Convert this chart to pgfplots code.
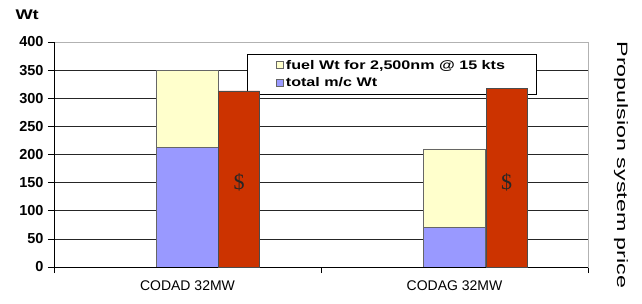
\documentclass[border=0pt]{standalone}
\usepackage{fontspec}
\setmainfont{Liberation Sans}
\newfontfamily\serifdollar{Liberation Serif}
\usepackage{pgfplots}
\pgfplotsset{compat=1.18}
\definecolor{fuelY}{HTML}{FFFFCC}
\definecolor{mcB}{HTML}{9999FF}
\definecolor{priceR}{HTML}{CC3300}
\pgfplotsset{common/.style={
  at={(54pt,36pt)}, anchor=south west,
  width=534pt, height=225pt, scale only axis,
  xmin=-0.5, xmax=1.5, ymin=0, ymax=400}}
\begin{document}
\begin{tikzpicture}
\useasboundingbox (0,0) rectangle (642pt,303pt);
\begin{axis}[
  common,
  ytick={0,50,...,400},
  xtick={-0.5,0.5,1.5}, xticklabels={},
  extra x ticks={0,1},
  extra x tick labels={CODAD 32MW, CODAG 32MW},
  extra x tick style={major tick length=0pt, xticklabel style={yshift=-10pt, font=\fontsize{14}{16}\selectfont}},
  tick align=outside, major tick length=6pt,
  xtick pos=bottom, ytick pos=left,
  ymajorgrids, grid style={black!85, line width=0.6pt},
  axis line style={gray!60},
  tick style={black, line width=0.6pt},
  yticklabel style={font=\bfseries\fontsize{14.5}{16}\selectfont, xshift=-1pt},
  /pgf/number format/assume math mode=true,
  legend style={at={(0.3614,0.948)}, anchor=north west, draw=black, fill=white,
    font=\bfseries\fontsize{12.5}{14}\selectfont, inner xsep=29pt, inner ysep=4pt,
    row sep=3pt, line width=0.6pt},
  legend cell align=left,
]
\addplot[ybar, bar shift=0pt, bar width=0.232, fill=fuelY, draw=gray!80!black,
  legend image code/.code={\draw[fill=fuelY, draw=gray!80!black] (0pt,-3.5pt) rectangle (7pt,3.5pt);}]
  coordinates {(0,350) (1,210)};
\addlegendentry{\scalebox{1.29}[1]{fuel Wt for 2,500nm @ 15 kts}}
\addplot[ybar, bar shift=0pt, bar width=0.232, fill=mcB, draw=gray!80!black,
  legend image code/.code={\draw[fill=mcB, draw=gray!80!black] (0pt,-3.5pt) rectangle (7pt,3.5pt);}]
  coordinates {(0,213) (1,71)};
\addlegendentry{\scalebox{1.29}[1]{total m/c Wt}}
\draw[black, line width=0.6pt] (rel axis cs:0,0) -- (rel axis cs:0,1);
\draw[black, line width=0.6pt] (rel axis cs:0,0) -- (rel axis cs:1,0);
\end{axis}
\begin{axis}[common, hide axis, clip=false]
\addplot[ybar, bar shift=0pt, bar width=0.154, fill=priceR, draw=black!70]
  coordinates {(0.193,313) (1.195,318)};
\node[text=black!85] at (axis cs:0.193,150) {\serifdollar\fontsize{22}{24}\selectfont\$};
\node[text=black!85] at (axis cs:1.195,150) {\serifdollar\fontsize{22}{24}\selectfont\$};
\end{axis}
\node[anchor=west, font=\bfseries\fontsize{14}{16}\selectfont] at (12pt,288pt) {\scalebox{1.3}[1]{Wt}};
\node[rotate=-90, font=\fontsize{15}{17}\selectfont] at (621pt,138pt) {\scalebox{1.55}[1]{Propulsion system price}};
\end{tikzpicture}
\end{document}
